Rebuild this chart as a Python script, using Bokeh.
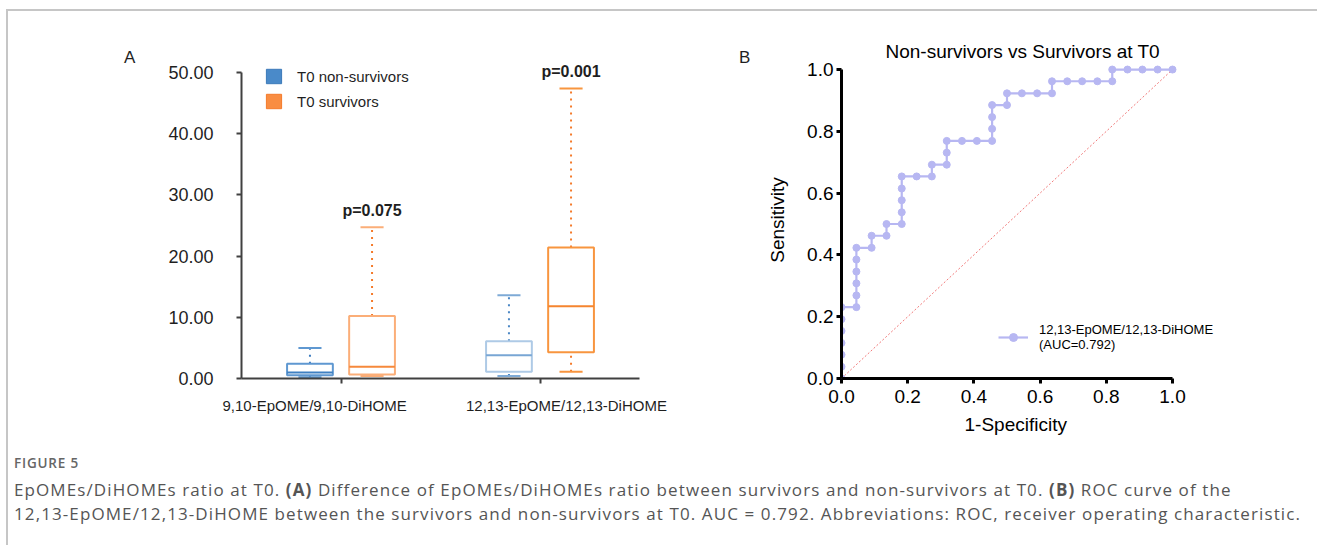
from bokeh.plotting import figure
from bokeh.models import (ColumnDataSource, FactorRange, Range1d, Label, Legend, LegendItem,
                          FixedTicker, NumeralTickFormatter, Div, CategoricalAxis, Title)
from bokeh.transform import dodge
from bokeh.layouts import row, column
from bokeh.embed import file_html
from bokeh.resources import INLINE

# ---------------- data ----------------
categories = ["9,10-EpOME/9,10-DiHOME", "12,13-EpOME/12,13-DiHOME"]
series_names = ["T0 non-survivors", "T0 survivors"]

nonsurv_min = [0.2, 0.4]
nonsurv_q1 = [0.55, 1.1]
nonsurv_median = [1.0, 3.8]
nonsurv_q3 = [2.4, 6.1]
nonsurv_max = [5.0, 13.6]

surv_min = [0.4, 1.1]
surv_q1 = [0.65, 4.3]
surv_median = [1.9, 11.8]
surv_q3 = [10.2, 21.4]
surv_max = [24.7, 47.4]

p_values = ["p=0.075", "p=0.001"]
y_ticks_a = [0, 10, 20, 30, 40, 50]

roc_fpr = [0, 0, 0, 0, 0, 0, 0,
           0.045, 0.045, 0.045, 0.045, 0.045, 0.045,
           0.091, 0.091,
           0.136, 0.136,
           0.182, 0.182, 0.182, 0.182, 0.182,
           0.227,
           0.273, 0.273,
           0.318, 0.318, 0.318,
           0.364,
           0.409,
           0.455, 0.455, 0.455, 0.455,
           0.5, 0.5,
           0.545,
           0.591,
           0.636, 0.636,
           0.682,
           0.727,
           0.773,
           0.818, 0.818,
           0.864, 0.909, 0.955, 1.0]
roc_tpr = [0, 0.038, 0.077, 0.115, 0.154, 0.192, 0.231,
           0.231, 0.269, 0.308, 0.346, 0.385, 0.423,
           0.423, 0.462,
           0.462, 0.5,
           0.5, 0.538, 0.577, 0.615, 0.654,
           0.654,
           0.654, 0.692,
           0.692, 0.731, 0.769,
           0.769,
           0.769,
           0.769, 0.808, 0.846, 0.885,
           0.885, 0.923,
           0.923,
           0.923,
           0.923, 0.962,
           0.962,
           0.962,
           0.962,
           0.962, 1.0,
           1.0, 1.0, 1.0, 1.0]
chance_x = [0.0, 1.0]
chance_y = [0.0, 1.0]
roc_ticks = [0.0, 0.2, 0.4, 0.6, 0.8, 1.0]
roc_label = "12,13-EpOME/12,13-DiHOME\n(AUC=0.792)"
roc_title = "Non-survivors vs Survivors at T0"
roc_xlabel = "1-Specificity"
roc_ylabel = "Sensitivity"

FONT = "Liberation Sans"
NAN = float("nan")
ROW_H = 437

# ---------------- panel A ----------------
pA = figure(x_range=FactorRange(factors=categories), y_range=Range1d(0, 51.8),
            width=550, height=ROW_H, output_backend="svg", toolbar_location=None,
            min_border_left=91, min_border_right=61, min_border_top=50, min_border_bottom=70)
pA.outline_line_color = None
pA.xgrid.grid_line_color = None
pA.ygrid.grid_line_color = None

for ax in (pA.xaxis[0], pA.yaxis[0]):
    ax.axis_line_width = 2
    ax.axis_line_color = "#404040"
    ax.major_tick_line_width = 2
    ax.major_tick_line_color = "#404040"
    ax.major_tick_in = 0
    ax.major_tick_out = 5
    ax.minor_tick_line_color = None
    ax.major_label_text_font = FONT
    ax.major_label_text_color = "#1f1f1f"
pA.yaxis.bounds = (0, 50)
pA.yaxis.ticker = FixedTicker(ticks=y_ticks_a)
pA.yaxis.formatter = NumeralTickFormatter(format="0.00")
pA.yaxis.major_label_text_font_size = "18px"
pA.yaxis.major_label_standoff = 23
# tick marks only on the main category axis; names on a spread-out label axis below
pA.xaxis.major_label_text_font_size = "0px"
pA.xaxis.major_label_text_alpha = 0
pA.xaxis.major_label_standoff = 0
pA.extra_x_ranges = {"names": FactorRange(factors=categories, range_padding=-0.21)}
name_axis = CategoricalAxis(x_range_name="names", axis_line_color=None,
                            major_tick_line_color=None, major_tick_in=0, major_tick_out=0,
                            minor_tick_line_color=None, major_label_text_font=FONT,
                            major_label_text_font_size="15px", major_label_text_color="#1f1f1f",
                            major_label_standoff=13)
pA.add_layout(name_axis, "below")

OFF = 0.156
BW = 0.23
CAP = 0.058
styles = {
    "ns": [dict(box="#5f98d1", med="#3f80c2", whisk="#3b7bbf", cap="#5f98d1"),
           dict(box="#aecae6", med="#78a6d4", whisk="#4b87c5", cap="#7eaad6")],
    "sv": [dict(box="#fbae78", med="#f6893b", whisk="#f47a2a", cap="#fbae78"),
           dict(box="#f8953f", med="#f5852f", whisk="#f47a2a", cap="#f8953f")],
}
series = [("ns", -OFF, nonsurv_min, nonsurv_q1, nonsurv_median, nonsurv_q3, nonsurv_max),
          ("sv", OFF, surv_min, surv_q1, surv_median, surv_q3, surv_max)]

for key, off, mn, q1, med, q3, mx in series:
    for i, cat in enumerate(categories):
        st = styles[key][i]
        src = ColumnDataSource(dict(cat=[cat], lo=[mn[i]], q1=[q1[i]], med=[med[i]],
                                    q3=[q3[i]], hi=[mx[i]]))
        xc = dodge("cat", off, range=pA.x_range)
        pA.segment(x0=xc, x1=xc, y0="q3", y1="hi", source=src, line_color=st["whisk"],
                   line_width=2, line_dash="2 5")
        pA.segment(x0=xc, x1=xc, y0="lo", y1="q1", source=src, line_color=st["whisk"],
                   line_width=2, line_dash="2 5")
        pA.vbar(x=xc, width=BW, top="q3", bottom="q1", source=src, fill_color="white",
                line_color=st["box"], line_width=2)
        pA.segment(x0=dodge("cat", off - BW / 2, range=pA.x_range),
                   x1=dodge("cat", off + BW / 2, range=pA.x_range),
                   y0="med", y1="med", source=src, line_color=st["med"], line_width=2)
        for fld in ("hi", "lo"):
            pA.segment(x0=dodge("cat", off - CAP, range=pA.x_range),
                       x1=dodge("cat", off + CAP, range=pA.x_range),
                       y0=fld, y1=fld, source=src, line_color=st["cap"], line_width=2)

for i, txt in enumerate(p_values):
    pA.add_layout(Label(x=i + 0.5 + OFF, y=surv_max[i] + 1.3, text=txt, text_align="center",
                        text_baseline="bottom", text_font=FONT, text_font_size="16px",
                        text_font_style="bold", text_color="#1f1f1f"))

r_ns = pA.quad(left=[NAN], right=[NAN], top=[NAN], bottom=[NAN],
               fill_color="#4a8ac9", line_color="#3b79b9")
r_sv = pA.quad(left=[NAN], right=[NAN], top=[NAN], bottom=[NAN],
               fill_color="#f98d42", line_color="#f47a2a")
legA = Legend(items=[LegendItem(label=series_names[0], renderers=[r_ns]),
                     LegendItem(label=series_names[1], renderers=[r_sv])],
              location=(23, 268), padding=0, spacing=7, margin=0,
              glyph_width=19, glyph_height=18, label_height=18, label_standoff=14,
              label_text_font=FONT, label_text_font_size="15px", label_text_color="#1f1f1f",
              border_line_color=None, background_fill_alpha=0)
pA.add_layout(legA)

# ---------------- panel B ----------------
pB = figure(x_range=Range1d(0, 1.139), y_range=Range1d(0, 1.026), title=roc_title,
            width=551, height=ROW_H, output_backend="svg", toolbar_location=None,
            min_border_left=81, min_border_right=93, min_border_top=50, min_border_bottom=70)
pB.outline_line_color = None
pB.xgrid.grid_line_color = None
pB.ygrid.grid_line_color = None
pB.title.align = "left"
pB.title.offset = 44
pB.title.standoff = 0
pB.title.vertical_align = "bottom"
pB.title.text_font = FONT
pB.title.text_font_size = "19px"
pB.title.text_font_style = "normal"
pB.title.text_color = "black"
for ax in (pB.xaxis[0], pB.yaxis[0]):
    ax.bounds = (0, 1)
    ax.ticker = FixedTicker(ticks=roc_ticks)
    ax.formatter = NumeralTickFormatter(format="0.0")
    ax.axis_line_width = 3
    ax.axis_line_color = "black"
    ax.major_tick_line_width = 3
    ax.major_tick_line_color = "black"
    ax.major_tick_in = 0
    ax.major_tick_out = 5
    ax.minor_tick_line_color = None
    ax.major_label_text_font = FONT
    ax.major_label_text_font_size = "19px"
    ax.major_label_text_color = "black"
    ax.major_label_standoff = 3
    ax.axis_label_text_font = FONT
    ax.axis_label_text_font_size = "19px"
    ax.axis_label_text_font_style = "normal"
    ax.axis_label_text_color = "black"
pB.xaxis.major_label_standoff = 6
pB.yaxis.axis_label = roc_ylabel
pB.yaxis.axis_label_standoff = 16
# x-axis name, centred under the 0..1 part of the axis rather than the whole frame
pB.add_layout(Title(text=roc_xlabel, align="left", offset=123, standoff=16,
                    vertical_align="top", text_font=FONT, text_font_size="19px",
                    text_font_style="normal", text_color="black"), "below")

pB.line(chance_x, chance_y, line_color="#f07a7a", line_width=1, line_dash="2 2")
roc_src = ColumnDataSource(dict(fpr=roc_fpr, tpr=roc_tpr))
r_line = pB.line("fpr", "tpr", source=roc_src, line_color="#b7b7f2", line_width=2.2)
r_pts = pB.scatter("fpr", "tpr", source=roc_src, size=7, fill_color="#b7b7f2",
                   line_color="#b7b7f2")

legB = Legend(items=[LegendItem(label=roc_label, renderers=[r_line, r_pts])],
              location=(157, 26), padding=0, margin=0, glyph_width=30, glyph_height=20,
              label_standoff=11, label_text_font=FONT, label_text_font_size="13px",
              label_text_color="black", border_line_color=None, background_fill_alpha=0)
pB.add_layout(legB)

# ---------------- panel letters, caption & frame ----------------
def letter(t, pad_left, width):
    html = ("<div style=\"font-family:'Liberation Sans';font-size:17px;color:#1f1f1f;"
            f"line-height:20px;padding-top:37px;padding-left:{pad_left}px\">{t}</div>")
    return Div(text=html, width=width, height=ROW_H, margin=0)

divA = letter("A", 116, 142)
divB = letter("B", 39, 60)

caption_html = (
    "<div style=\"font-family:'Open Sans';color:#555;white-space:nowrap;padding-left:6px\">"
    "<div style=\"font-size:13.5px;font-weight:600;letter-spacing:0.8px;color:#666;"
    "line-height:16px;margin-top:7px\">FIGURE 5</div>"
    "<div style=\"font-size:17px;letter-spacing:1.1px;line-height:24px;margin-top:7px\">"
    "EpOMEs/DiHOMEs ratio at T0. <b>(A)</b> Difference of EpOMEs/DiHOMEs ratio between survivors "
    "and non-survivors at T0. <b>(B)</b> ROC curve of the<br>"
    "12,13-EpOME/12,13-DiHOME between the survivors and non-survivors at T0. AUC = 0.792. "
    "Abbreviations: ROC, receiver operating characteristic.</div></div>"
)
caption = Div(text=caption_html, width=1303, height=97, margin=0)

gap_top = Div(text="", width=1311, height=9, margin=0)
gap_left = Div(text="", width=6, height=536, margin=0)
left_border = Div(text="", width=2, height=536, margin=0, styles={"background-color": "#c6c6c6"})
top_border = Div(text="", width=1309, height=2, margin=0, styles={"background-color": "#c6c6c6"})

layout = column(gap_top,
                row(gap_left, left_border,
                    column(top_border, row(divA, pA, divB, pB), caption)))

open("out.html", "w").write(file_html(layout, INLINE))
